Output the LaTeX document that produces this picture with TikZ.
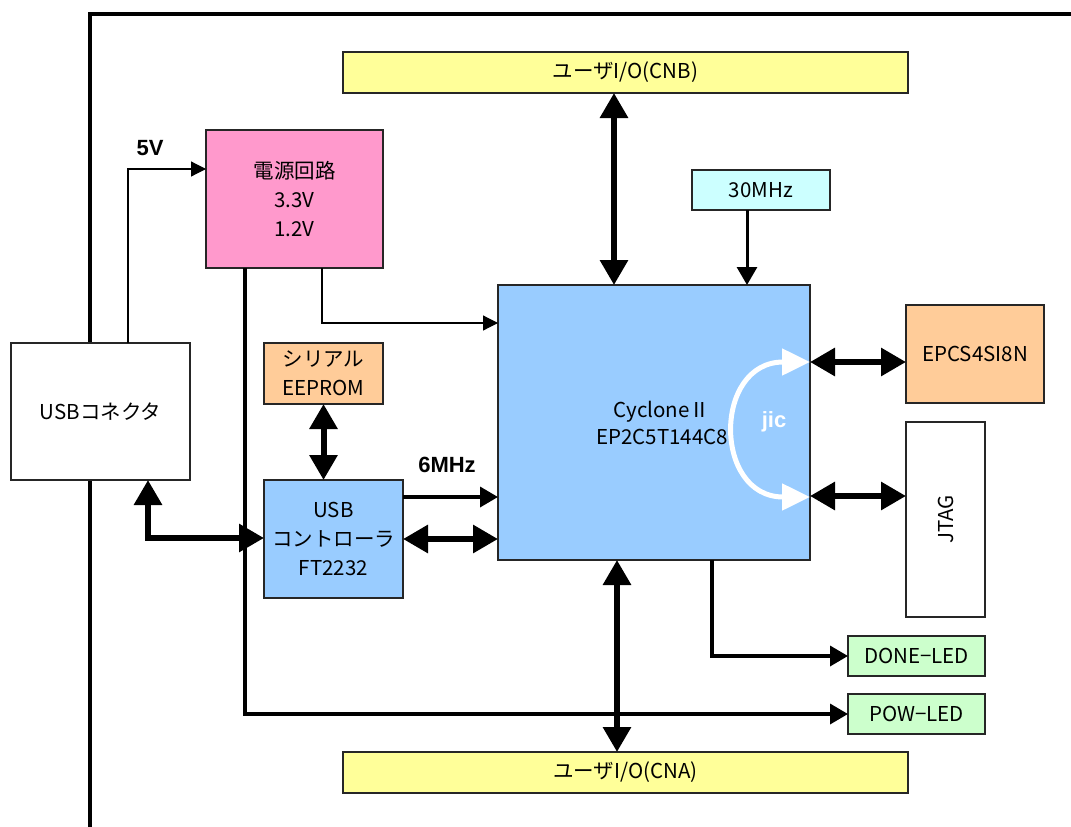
\documentclass[tikz,border=0pt]{standalone}
\usepackage{fontspec}
\setmainfont{Noto Sans CJK JP}
\newfontfamily\lblfont{Liberation Sans}
\usetikzlibrary{arrows.meta}

\definecolor{ioyellow}{HTML}{FFFF99}
\definecolor{pwrpink}{HTML}{FF99CC}
\definecolor{romorange}{HTML}{FFCC99}
\definecolor{chipblue}{HTML}{99CCFF}
\definecolor{osccyan}{HTML}{CCFFFF}
\definecolor{ledgreen}{HTML}{CCFFCC}

\tikzset{
  box/.style={draw=black!85,line width=1.3pt,inner sep=0pt,outer sep=0pt,
    align=center,font=\fontsize{20.5}{29}\selectfont},
  bus/.style={line width=6pt,
    {Triangle[length=25pt,width=27pt]}-{Triangle[length=25pt,width=27pt]}},
  sig/.style={line width=3.5pt,-{Triangle[length=18pt,width=20pt]}},
  pwrline/.style={line width=1.2pt,-{Triangle[length=15pt,width=15pt]}},
  lbl/.style={font=\lblfont\bfseries\fontsize{22}{24}\selectfont}
}

\begin{document}
\begin{tikzpicture}[x=1pt,y=-1pt]

  \useasboundingbox (0,0) rectangle (1071,827);
  \draw[line width=4pt] (90,830) |- (1075,14);

  \begin{scope}[every node/.style={box}]
    \node[fill=ioyellow,minimum width=565pt,minimum height=41pt]  (cnb)  at (625.5,72.5)  {ユーザI/O(CNB)};
    \node[fill=ioyellow,minimum width=565pt,minimum height=41pt]  (cna)  at (625.5,772.5) {ユーザI/O(CNA)};
    \node[fill=pwrpink,minimum width=177pt,minimum height=138pt]  (pwr)  at (294.5,199)   {電源回路\\3.3V\\1.2V};
    \node[fill=white,minimum width=179pt,minimum height=137pt]    (usbc) at (100.5,411.5) {USBコネクタ};
    \node[fill=romorange,minimum width=119pt,minimum height=61pt] (rom)  at (323.5,373.5) {シリアル\\EEPROM};
    \node[fill=chipblue,minimum width=139pt,minimum height=118pt] (ctl)  at (333.5,539)   {USB\\コントローラ\\FT2232};
    \node[fill=chipblue,minimum width=312pt,minimum height=275pt] (cyc)  at (654,422.5)   {};
    \node[fill=osccyan,minimum width=138pt,minimum height=40pt]   (osc)  at (761,190)     {30MHz};
    \node[fill=romorange,minimum width=138pt,minimum height=98pt] (epcs) at (975,354)     {EPCS4SI8N};
    \node[fill=white,minimum width=79pt,minimum height=195pt]     (jtag) at (945.5,519.5) {};
    \node[fill=ledgreen,minimum width=137pt,minimum height=40pt]  (done) at (916.5,656)   {DONE−LED};
    \node[fill=ledgreen,minimum width=137pt,minimum height=40pt]  (pow)  at (916.5,714)   {POW−LED};
  \end{scope}

  \begin{scope}[every node/.style={align=center,font=\fontsize{20.5}{27}\selectfont}]
    \node (cyctxt)  at (662,423)   {CycloneⅡ\\EP2C5T144C8};
    \node[rotate=90] (jtagtxt) at (jtag.center) {JTAG};
  \end{scope}

  \begin{scope}[every node/.style={lbl}]
    \node (v5)   at (150,148) {5V};
    \node (mhz6) at (447,465) {6MHz};
  \end{scope}

  \draw[bus] ([xshift=-40pt]cyc.north) -- ([xshift=-40pt]cyc.north |- cnb.south);
  \draw[bus] ([xshift=-37pt]cyc.south) -- ([xshift=-37pt]cyc.south |- cna.north);
  \draw[sig,line width=3pt] ([xshift=-14pt]osc.south) -- ([xshift=-14pt]osc.south |- cyc.north);

  \draw[pwrline] ([xshift=27.5pt]pwr.south) |- ([yshift=99.5pt]cyc.west);
  \draw[pwrline] ([xshift=27.5pt]usbc.north) |- ([yshift=30pt]pwr.west);
  \draw[sig] ([xshift=-49.5pt]pwr.south) |- (pow.west);

  \draw[bus] (rom.south) -- (rom.south |- ctl.north);
  \draw[bus] ([xshift=47.5pt]usbc.south) |- ([yshift=1pt]ctl.west);
  \draw[sig] ([yshift=42pt]ctl.east) -- ([yshift=42pt]ctl.east -| cyc.west);
  \draw[bus] (ctl.east) -- (ctl.east -| cyc.west);

  \draw[sig] ([xshift=58pt]cyc.south) |- (done.west);
  \draw[bus] ([yshift=-8pt]epcs.west) -- ([yshift=-8pt]epcs.west -| cyc.east);
  \draw[bus] ([yshift=23.5pt]jtag.west) -- ([yshift=23.5pt]jtag.west -| cyc.east);

  \draw[white,line width=5pt,
    {Triangle[length=28pt,width=26pt]}-{Triangle[length=28pt,width=26pt]}]
    ([yshift=60.5pt]cyc.east) .. controls (713,362) and (713,497) .. ([yshift=-74.5pt]cyc.east);
  \node[lbl,text=white] (jic) at (774,422) {jic};

\end{tikzpicture}
\end{document}
